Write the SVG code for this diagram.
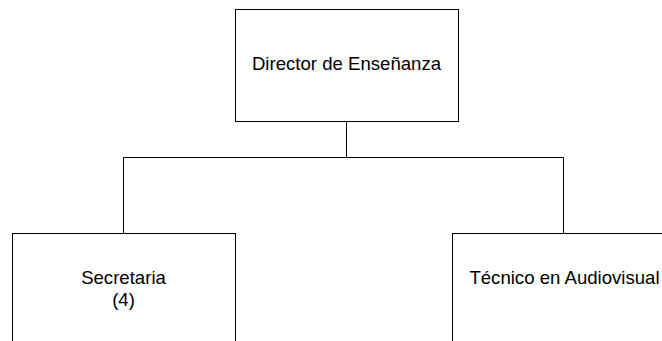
<svg xmlns="http://www.w3.org/2000/svg" width="662" height="341" viewBox="0 0 662 341">
<style>
.box{fill:#fff;stroke:#000;stroke-width:1}
.ln{fill:none;stroke:#000;stroke-width:1}
text{font-family:"Liberation Sans",Arial,sans-serif;font-size:18.6px;fill:#000;text-anchor:middle}
</style>
<rect width="662" height="341" fill="#fff"/>
<g id="connectors">
<path class="ln" d="M346.5 121.5V157.5M123.5 157.5H563.5M123.5 157.5V233.5M563.5 157.5V233.5"/>
</g>
<g id="director">
<rect class="box" x="235.5" y="9.5" width="223" height="112"/>
<text x="346.5" y="70">Director de Enseñanza</text>
</g>
<g id="secretaria">
<rect class="box" x="12.5" y="233.5" width="223" height="120"/>
<text x="123.5" y="284">Secretaria</text>
<text x="123.5" y="306">(4)</text>
</g>
<g id="tecnico">
<rect class="box" x="452.5" y="233.5" width="223" height="120"/>
<text x="564.5" y="284">Técnico en Audiovisual</text>
</g>
</svg>
